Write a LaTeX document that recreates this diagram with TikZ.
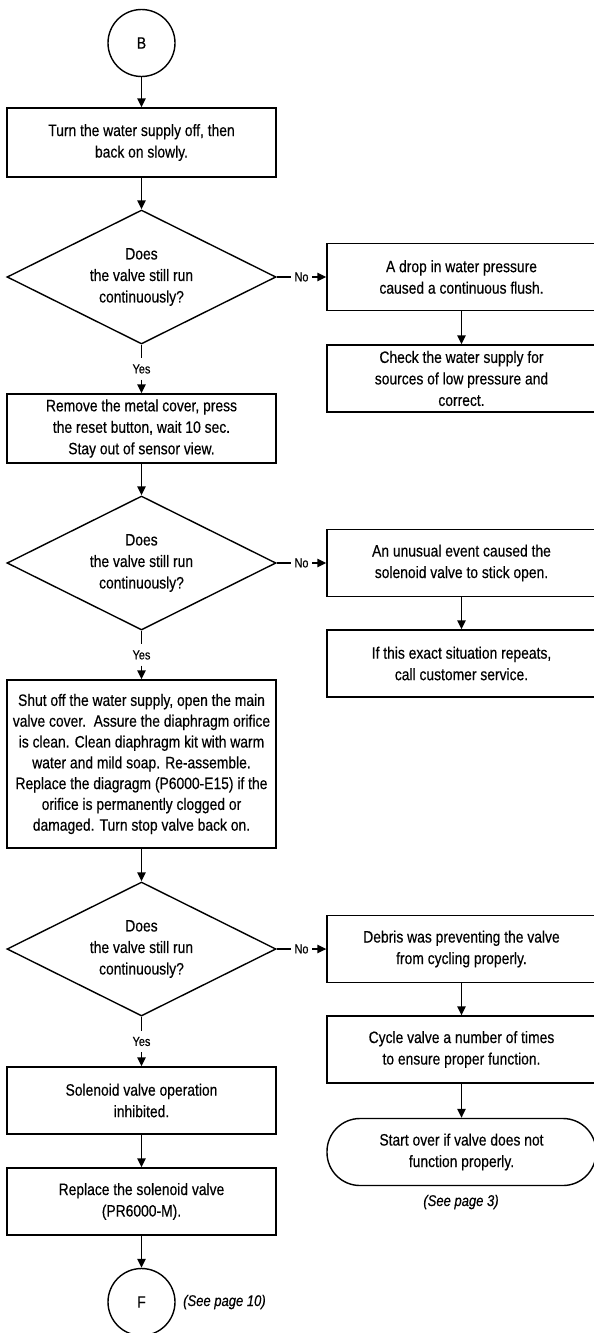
\documentclass[tikz,border=0pt]{standalone}
\usepackage{fontspec}
\setmainfont{Liberation Sans}[FakeStretch=0.84,FakeBold=0.4]
\usetikzlibrary{shapes.geometric,arrows.meta}
\begin{document}
\begin{tikzpicture}[x=1pt,y=-1pt,
  every node/.style={font=\fontsize{16.5}{21.5}\selectfont},
  proc/.style={draw, line width=1.4pt, minimum width=269pt, minimum height=67pt, align=center, inner sep=0pt},
  dec/.style={diamond, draw, line width=1.4pt, aspect=2, minimum width=269pt, minimum height=134pt, inner sep=0pt, align=center},
  conn/.style={circle, draw, line width=1.4pt, minimum size=67pt, inner sep=0pt},
  term/.style={draw, line width=1.4pt, rounded corners=33pt, minimum width=269pt, minimum height=67pt, align=center, inner sep=0pt},
  lbl/.style={font=\fontsize{13}{15}\selectfont, inner xsep=3.5pt, inner ysep=6pt},
  note/.style={font=\fontsize{15.5}{18}\selectfont\itshape, inner sep=0pt},
  arr/.style={-{Triangle[length=9pt,width=8.5pt]}, line width=1.4pt},
  ln/.style={line width=1.4pt}]
\useasboundingbox (0,0) rectangle (594,1333);

% left column
\node[conn] (B) at (141.5,43) {B};
\node[proc, minimum height=69pt] (p1) at (141.5,142.5) {Turn the water supply off, then\\back on slowly.};
\node[dec] (d1) at (141.5,277) {Does\\the valve still run\\continuously?};
\node[proc, minimum height=69pt] (p2) at (141.5,428.5) {Remove the metal cover, press\\the reset button, wait 10 sec.\\Stay out of sensor view.};
\node[dec] (d2) at (141.5,563) {Does\\the valve still run\\continuously?};
\node[proc, minimum height=168pt, font=\fontsize{16.5}{20.8}\selectfont] (p3) at (141.5,764) {Shut off the water supply, open the main\\valve cover.\ \ Assure the diaphragm orifice\\is clean. Clean diaphragm kit with warm\\water and mild soap. Re-assemble.\\Replace the diagragm (P6000-E15) if the\\orifice is permanently clogged or\\damaged. Turn stop valve back on.};
\node[dec] (d3) at (141.5,949) {Does\\the valve still run\\continuously?};
\node[proc] (p4) at (141.5,1100.5) {Solenoid valve operation\\inhibited.};
\node[proc] (p5) at (141.5,1201.5) {Replace the solenoid valve\\(PR6000-M).};
\node[conn] (F) at (141.5,1302) {F};
\node[note, anchor=west] (n10) at (183,1302) {(See page 10)};

% right column
\node[proc] (r1) at (461.5,277) {A drop in water pressure\\caused a continuous flush.};
\node[proc] (r2) at (461.5,378.5) {Check the water supply for\\sources of low pressure and\\correct.};
\node[proc] (r3) at (461.5,563) {An unusual event caused the\\solenoid valve to stick open.};
\node[proc] (r4) at (461.5,663.5) {If this exact situation repeats,\\call customer service.};
\node[proc] (r5) at (461.5,949) {Debris was preventing the valve\\from cycling properly.};
\node[proc] (r6) at (461.5,1049.5) {Cycle valve a number of times\\to ensure proper function.};
\node[term] (t1) at (461.5,1152) {Start over if valve does not\\function properly.};
\node[note] (n3) at (461,1202) {(See page 3)};

% left connectors
\draw[arr] (B) -- (p1);
\draw[arr] (p1) -- (d1);
\path (d1.south) -- node[lbl] (y1) {Yes} (p2.north);
\draw[ln] (d1.south) -- (y1.north);
\draw[arr] (y1.south) -- (p2.north);
\draw[arr] (p2) -- (d2);
\path (d2.south) -- node[lbl] (y2) {Yes} (p3.north);
\draw[ln] (d2.south) -- (y2.north);
\draw[arr] (y2.south) -- (p3.north);
\draw[arr] (p3) -- (d3);
\path (d3.south) -- node[lbl] (y3) {Yes} (p4.north);
\draw[ln] (d3.south) -- (y3.north);
\draw[arr] (y3.south) -- (p4.north);
\draw[arr] (p4) -- (p5);
\draw[arr] (p5) -- (F);

% No branches
\path (d1.east) -- node[lbl] (no1) {No} (r1.west);
\draw[ln] (d1.east) -- (no1.west);
\draw[arr] (no1.east) -- (r1.west);
\path (d2.east) -- node[lbl] (no2) {No} (r3.west);
\draw[ln] (d2.east) -- (no2.west);
\draw[arr] (no2.east) -- (r3.west);
\path (d3.east) -- node[lbl] (no3) {No} (r5.west);
\draw[ln] (d3.east) -- (no3.west);
\draw[arr] (no3.east) -- (r5.west);

% right connectors
\draw[arr] (r1) -- (r2);
\draw[arr] (r3) -- (r4);
\draw[arr] (r5) -- (r6);
\draw[arr] (r6) -- (t1);
\end{tikzpicture}
\end{document}
